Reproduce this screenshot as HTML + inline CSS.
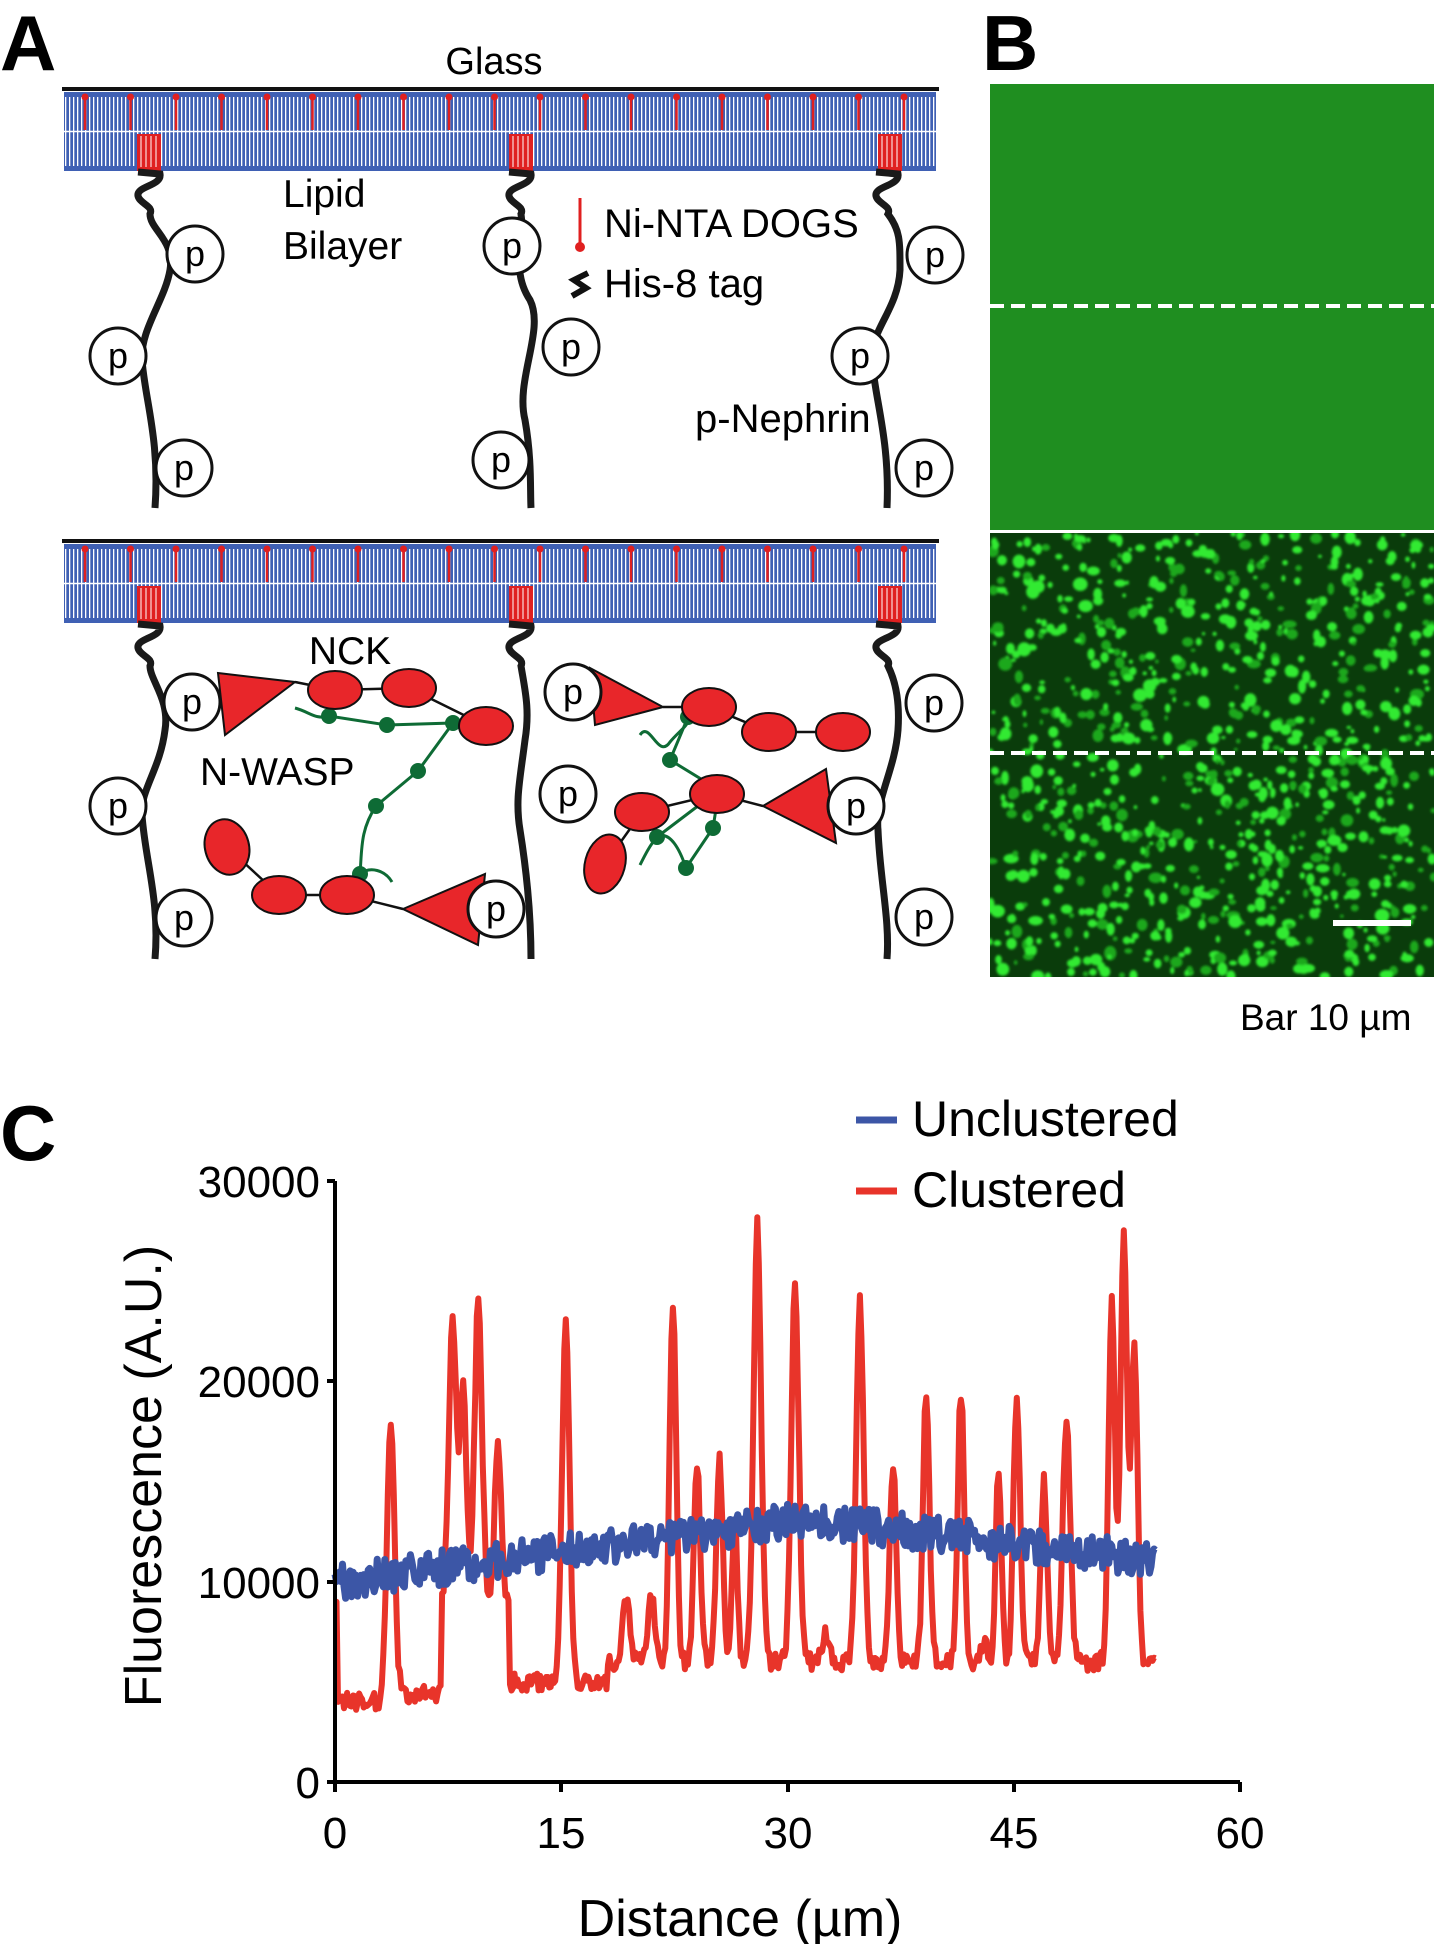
<!DOCTYPE html>
<html><head><meta charset="utf-8"><style>
html,body{margin:0;padding:0;background:#fff;width:1440px;height:1944px;overflow:hidden}
svg{display:block}
text{font-family:"Liberation Sans",sans-serif}
</style></head><body>
<svg id="s" width="1440" height="1944" viewBox="0 0 1440 1944" xmlns="http://www.w3.org/2000/svg">
<defs>
<pattern id="lip" width="4" height="10" patternUnits="userSpaceOnUse">
<rect width="4" height="10" fill="#3f60b4"/><rect x="1" width="1.3" height="10" fill="#fff"/>
</pattern>
<filter id="bl"><feGaussianBlur stdDeviation="1.4"/></filter>
<clipPath id="cb"><rect x="990" y="533" width="444" height="444"/></clipPath>
</defs>
<text x="0" y="70" font-size="78" font-weight="bold">A</text>
<text x="982" y="70" font-size="78" font-weight="bold">B</text>
<text x="0" y="1160" font-size="78" font-weight="bold">C</text>
<text x="494" y="74" font-size="38" text-anchor="middle">Glass</text>
<text x="283" y="207" font-size="39">Lipid</text>
<text x="283" y="259" font-size="39">Bilayer</text>
<text x="604" y="237" font-size="40">Ni-NTA DOGS</text>
<text x="604" y="297" font-size="40">His-8 tag</text>
<text x="695" y="432" font-size="40">p-Nephrin</text>
<line x1="580" y1="198" x2="580" y2="243" stroke="#e02020" stroke-width="3"/>
<circle cx="580" cy="247" r="5" fill="#e02020"/>
<path d="M588 273 L574 280 L586 288 L572 296" stroke="#111" stroke-width="6" fill="none"/>
<text x="350" y="664" font-size="39" text-anchor="middle">NCK</text>
<text x="200" y="785" font-size="39">N-WASP</text>
<g id="diag"></g>
<!-- panel B -->
<rect x="990" y="84" width="444" height="446" fill="#1f8e20"/>
<rect x="990" y="533" width="444" height="444" fill="#0a3c0b"/>
<g clip-path="url(#cb)"><g id="spots" filter="url(#bl)"></g></g>
<line x1="990" y1="306" x2="1434" y2="306" stroke="#fff" stroke-width="4" stroke-dasharray="14 7"/>
<line x1="990" y1="753" x2="1434" y2="753" stroke="#fff" stroke-width="4" stroke-dasharray="14 7"/>
<line x1="1333" y1="923" x2="1411" y2="923" stroke="#fff" stroke-width="6"/>
<text x="1240" y="1030" font-size="37">Bar 10 µm</text>
<!-- plot C -->
<g font-size="44">
<text x="320" y="1197" text-anchor="end">30000</text>
<text x="320" y="1397" text-anchor="end">20000</text>
<text x="320" y="1598" text-anchor="end">10000</text>
<text x="320" y="1798" text-anchor="end">0</text>
<text x="335" y="1848" text-anchor="middle">0</text>
<text x="561" y="1848" text-anchor="middle">15</text>
<text x="788" y="1848" text-anchor="middle">30</text>
<text x="1014" y="1848" text-anchor="middle">45</text>
<text x="1240" y="1848" text-anchor="middle">60</text>
</g>
<text x="740" y="1936" font-size="52" text-anchor="middle">Distance (µm)</text>
<text transform="translate(161,1476) rotate(-90)" font-size="52" text-anchor="middle">Fluorescence (A.U.)</text>
<line x1="856" y1="1120" x2="897" y2="1120" stroke="#3c56a6" stroke-width="7"/>
<text x="912" y="1136" font-size="50">Unclustered</text>
<line x1="856" y1="1191" x2="897" y2="1191" stroke="#e8342a" stroke-width="7"/>
<text x="912" y="1207" font-size="50">Clustered</text>
<g id="plot"></g>
<path d="M335 1181 V1782 H1240" stroke="#000" stroke-width="4" fill="none"/>
<g stroke="#000" stroke-width="4">
<line x1="327" y1="1181" x2="335" y2="1181"/><line x1="327" y1="1381" x2="335" y2="1381"/><line x1="327" y1="1582" x2="335" y2="1582"/><line x1="327" y1="1782" x2="335" y2="1782"/>
<line x1="335" y1="1782" x2="335" y2="1792"/><line x1="561" y1="1782" x2="561" y2="1792"/><line x1="788" y1="1782" x2="788" y2="1792"/><line x1="1014" y1="1782" x2="1014" y2="1792"/><line x1="1240" y1="1782" x2="1240" y2="1792"/>
</g>
</svg>
<script>
var NS="http://www.w3.org/2000/svg";
var seed=7;function rnd(){seed=(seed*16807)%2147483647;return seed/2147483647;}
function el(p,t,a){var e=document.createElementNS(NS,t);for(var k in a)e.setAttribute(k,a[k]);p.appendChild(e);return e;}
var D=document.getElementById("diag");
function bilayer(gy){
  el(D,"line",{x1:62,y1:gy,x2:939,y2:gy,stroke:"#111","stroke-width":4});
  var t=gy+3,b=gy+82;
  el(D,"rect",{x:64,y:t,width:872,height:b-t,fill:"url(#lip)"});
  el(D,"rect",{x:64,y:t,width:872,height:5,fill:"#3f60b4"});
  el(D,"rect",{x:64,y:b-5,width:872,height:5,fill:"#3f60b4"});
  el(D,"line",{x1:64,y1:(t+b)/2,x2:936,y2:(t+b)/2,stroke:"#fff","stroke-width":1.5});
  for(var x=85;x<930;x+=45.5){el(D,"line",{x1:x,y1:t+3,x2:x,y2:t+38,stroke:"#e02020","stroke-width":2.5});el(D,"circle",{cx:x,cy:t+5,r:3.5,fill:"#e02020"});}
  [149,521,890].forEach(function(ax){el(D,"rect",{x:ax-12,y:t+42,width:24,height:b-t-42,fill:"#e02020"});
   for(var i=0;i<4;i++)el(D,"line",{x1:ax-8+i*5,y1:t+44,x2:ax-8+i*5,y2:b-4,stroke:"#fff","stroke-width":1});});
}
bilayer(89);bilayer(541);
function chain(x,gy,pts){
  var y0=gy+83,d="M"+(x-12)+" "+y0+" L"+(x+10)+" "+(y0+2)+" C"+(x+12)+" "+(y0+14)+" "+(x-14)+" "+(y0+14)+" "+(x-12)+" "+(y0+24)+" C"+(x-10)+" "+(y0+32)+" "+(x+4)+" "+(y0+34)+" "+(x)+" "+(y0+42)+" "+pts;
  el(D,"path",{d:d,stroke:"#1a1a1a","stroke-width":7,fill:"none"});
}
function P(cx,cy){el(D,"circle",{cx:cx,cy:cy,r:28,fill:"#fff",stroke:"#111","stroke-width":3});
 var t=el(D,"text",{x:cx,y:cy+12,"font-size":36,"text-anchor":"middle"});t.textContent="p";}
chain(150,89,"C150 230 175 240 170 270 C165 300 140 330 142 360 C145 400 160 440 155 508");
chain(521,89,"C525 240 510 270 530 300 C545 330 515 380 525 420 C532 460 530 490 531 508");
chain(888,89,"C900 230 900 240 900 270 C898 310 870 330 872 360 C875 400 890 440 887 508");
P(195,254);P(118,356);P(184,468);P(512,246);P(571,347);P(501,460);P(935,255);P(860,356);P(924,468);
chain(150,541,"C150 680 170 700 165 730 C160 770 140 790 142 815 C145 860 160 900 155 959");
chain(521,541,"C525 690 530 710 525 740 C520 780 515 800 520 830 C528 880 531 920 531 959");
chain(888,541,"C895 680 900 700 898 730 C895 770 875 800 878 830 C880 880 890 920 887 959");
function G(d,dots){el(D,"path",{d:d,stroke:"#0e6b35","stroke-width":3,fill:"none"});dots.forEach(function(p){el(D,"circle",{cx:p[0],cy:p[1],r:8,fill:"#0e6b35"});});}
G("M295 708 C310 712 315 720 329 716 L387 725 L453 723 L418 771 L376 806 C360 830 362 850 360 874 C370 866 385 870 392 882",[[329,716],[387,725],[453,723],[418,771],[376,806],[360,874]]);
G("M640 735 C650 720 658 760 670 742 C680 730 690 725 688 717 L670 760 L719 790 L713 828 L686 868 C680 850 670 830 657 837 C650 845 645 855 640 865 M657 837 L719 790",[[688,717],[670,760],[719,790],[713,828],[657,837],[686,868]]);
function E(cx,cy,rx,ry,rot){el(D,"ellipse",{cx:cx,cy:cy,rx:rx,ry:ry,fill:"#e8262a",stroke:"#111","stroke-width":2,transform:"rotate("+(rot||0)+" "+cx+" "+cy+")"});}
function L(pts){el(D,"polyline",{points:pts,stroke:"#111","stroke-width":2.5,fill:"none"});}
function T(pts){el(D,"polygon",{points:pts,fill:"#e8262a",stroke:"#111","stroke-width":2});}
L("295,682 335,690 409,688 486,726");
T("218,673 295,682 225,735");E(335,690,27,19);E(409,688,27,19);E(486,726,27,19);
L("227,847 279,895 347,895 403,909");
E(227,847,22,28,-15);E(279,895,27,19);E(347,895,27,19);T("403,909 485,874 478,945");
L("663,707 709,707 769,732 843,732");T("590,668 663,707 595,725");E(709,707,27,19);E(769,732,27,19);E(843,732,27,19);
L("763,806 717,794 642,812 605,864");E(717,794,27,19);E(642,812,27,19);E(605,864,20,30,15);T("763,806 826,769 836,843");
P(192,702);P(118,806);P(184,918);P(573,692);P(568,794);P(934,703);P(924,917);P(496,909);P(856,806);
var S=document.getElementById("spots");
for(var i=0;i<1000;i++){var x=990+rnd()*444,y=533+rnd()*444,r=2+rnd()*3.8;
 el(S,"ellipse",{cx:x,cy:y,rx:r*(0.7+rnd()*0.6),ry:r*(0.7+rnd()*0.6),fill:rnd()<0.7?"#30ea30":"#1ca81d"});}
var G2=document.getElementById("plot");
function X(v){return 335+v*15.083;}function Y(v){return 1782-v*0.02003;}
var peaks=[[3.7,18000,.35],[7.8,23000,.35],[8.5,20000,.3],[9.5,24000,.35],[10.8,17000,.3],[15.3,23000,.35],[19.3,9000,.35],[21,9500,.3],[22.4,24000,.3],[24,16000,.3],[25.5,16000,.3],[26.5,13000,.25],[28,28000,.35],[30.5,25000,.35],[32.5,7500,.3],[34.8,24000,.35],[37,16000,.3],[39.2,19500,.3],[41.5,19500,.3],[43,7000,.3],[44,15800,.25],[45.2,19500,.3],[47,15000,.3],[48.5,18000,.35],[51.5,24000,.3],[52.3,27500,.3],[53,22000,.3]];
function base(x){if(x<3.2)return 4000;if(x<7)return 4400;if(x<11.5)return 9000;if(x<18)return 5000;return 6000;}
var rp="",bp="";
for(var x=0;x<=54.5;x+=0.1){var v=base(x)+(rnd()-0.5)*900;
 peaks.forEach(function(p){var d=(x-p[0])/p[2];v+= (p[1]-base(p[0]))*Math.exp(-d*d);});
 if(x<0.2)v=9000;
 rp+=(rp?" L":"M")+X(x).toFixed(1)+" "+Y(Math.min(v,28200)).toFixed(1);
 var bv=(x<31?10000+x*100:13100-(x-31)*85)+(rnd()-0.5)*1800;
 bp+=(bp?" L":"M")+X(x).toFixed(1)+" "+Y(bv).toFixed(1);}
el(G2,"path",{d:rp,stroke:"#e8342a","stroke-width":6,fill:"none","stroke-linejoin":"round"});
el(G2,"path",{d:bp,stroke:"#3c56a6","stroke-width":7,fill:"none","stroke-linejoin":"round"});
</script>
</body></html>
